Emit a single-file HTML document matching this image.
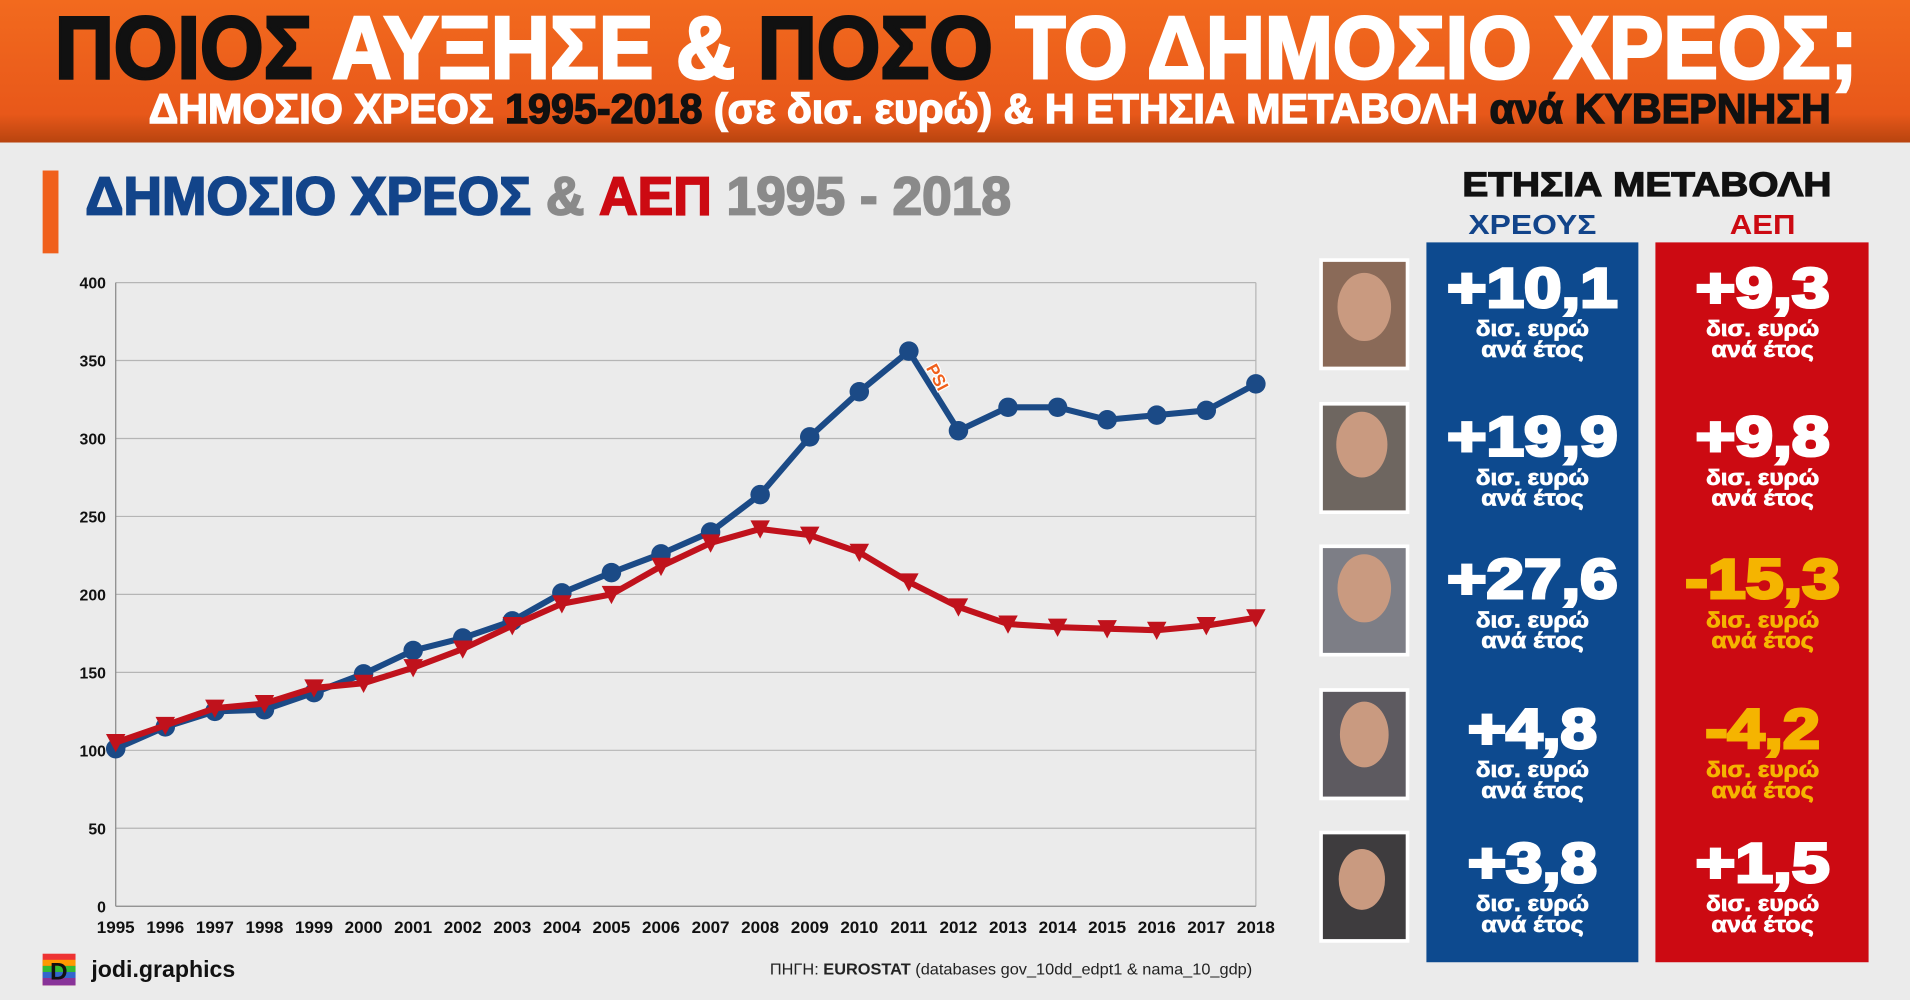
<!DOCTYPE html>
<html><head><meta charset="utf-8"><style>
html,body{margin:0;padding:0;background:#ececec;}
svg{display:block;}
</style></head><body>
<svg width="1910" height="1000" viewBox="0 0 1568 821" preserveAspectRatio="none" xmlns="http://www.w3.org/2000/svg" font-family="Liberation Sans, DejaVu Sans, sans-serif">
<defs>
<linearGradient id="hg" x1="0" y1="0" x2="0" y2="1">
<stop offset="0" stop-color="#f26a1e"/><stop offset="0.8" stop-color="#e8581a"/><stop offset="1" stop-color="#b8440f"/>
</linearGradient>
</defs>
<rect x="0" y="0" width="1568" height="821" fill="#ebebeb"/>
<rect x="0" y="0" width="1568" height="117" fill="url(#hg)"/>
<text x="45" y="64" font-size="72" font-weight="bold" textLength="1480" lengthAdjust="spacingAndGlyphs" fill="#fff" stroke="#fff" stroke-width="2.5"><tspan fill="#111" stroke="#111">ΠΟΙΟΣ</tspan> ΑΥΞΗΣΕ &amp; <tspan fill="#111" stroke="#111">ΠΟΣΟ</tspan> ΤΟ ΔΗΜΟΣΙΟ ΧΡΕΟΣ;</text>
<text x="122" y="101" font-size="34" font-weight="bold" textLength="1381" lengthAdjust="spacingAndGlyphs" fill="#fff" stroke="#fff" stroke-width="1.2">ΔΗΜΟΣΙΟ ΧΡΕΟΣ <tspan fill="#111" stroke="#111">1995-2018</tspan> (σε δισ. ευρώ) &amp; Η ΕΤΗΣΙΑ ΜΕΤΑΒΟΛΗ <tspan fill="#111" stroke="#111">ανά ΚΥΒΕΡΝΗΣΗ</tspan></text>

<rect x="35" y="140" width="13" height="68" fill="#f0601c"/>
<text x="70" y="176" font-size="44" font-weight="bold" textLength="760" lengthAdjust="spacingAndGlyphs" fill="#12448a" stroke="#12448a" stroke-width="1.5"><tspan fill="#8a8a8a" stroke="#8a8a8a" font-size="0">.</tspan>ΔΗΜΟΣΙΟ ΧΡΕΟΣ <tspan fill="#8a8a8a" stroke="#8a8a8a">&amp;</tspan> <tspan fill="#cc0a12" stroke="#cc0a12">ΑΕΠ</tspan> <tspan fill="#8a8a8a" stroke="#8a8a8a">1995 - 2018</tspan></text>

<g stroke="#b5b5b5" stroke-width="1">
<line x1="95" y1="232" x2="1031" y2="232"/><line x1="95" y1="296" x2="1031" y2="296"/>
<line x1="95" y1="360" x2="1031" y2="360"/><line x1="95" y1="424" x2="1031" y2="424"/>
<line x1="95" y1="488" x2="1031" y2="488"/><line x1="95" y1="552" x2="1031" y2="552"/>
<line x1="95" y1="616" x2="1031" y2="616"/><line x1="95" y1="680" x2="1031" y2="680"/>
<line x1="1031" y1="232" x2="1031" y2="744"/>
</g>
<line x1="95" y1="232" x2="95" y2="744" stroke="#888"/>
<line x1="95" y1="744" x2="1031" y2="744" stroke="#888"/>
<g font-size="13" font-weight="bold" fill="#111" text-anchor="end">
<text x="87" y="237">400</text><text x="87" y="301">350</text><text x="87" y="365">300</text><text x="87" y="429">250</text><text x="87" y="493">200</text><text x="87" y="557">150</text><text x="87" y="621">100</text><text x="87" y="685">50</text><text x="87" y="749">0</text>
</g>
<g font-size="14" font-weight="bold" fill="#111" text-anchor="middle" id="xl"></g>

<g id="series"></g>
<text x="0" y="0" font-size="14" font-weight="bold" fill="#f0601c" stroke="#fff" stroke-width="2" paint-order="stroke" transform="translate(760,302) rotate(62)">PSI</text>

<text x="1352" y="161" font-size="28" font-weight="bold" fill="#111" stroke="#111" stroke-width="1" text-anchor="middle" textLength="303" lengthAdjust="spacingAndGlyphs">ΕΤΗΣΙΑ ΜΕΤΑΒΟΛΗ</text>
<text x="1258" y="192" font-size="23" font-weight="bold" fill="#12448a" text-anchor="middle" textLength="105" lengthAdjust="spacingAndGlyphs">ΧΡΕΟΥΣ</text>
<text x="1447" y="192" font-size="23" font-weight="bold" fill="#cc0a12" text-anchor="middle" textLength="54" lengthAdjust="spacingAndGlyphs">ΑΕΠ</text>
<rect x="1171" y="199" width="174" height="591" fill="#0d4a8f"/>
<rect x="1359" y="199" width="175" height="591" fill="#cc0a12"/>
<g id="vals"></g>

<g fill="#fff">
<rect x="1083" y="212" width="74" height="92"/><rect x="1083" y="330" width="74" height="92"/><rect x="1083" y="447" width="74" height="92"/><rect x="1083" y="565" width="74" height="92"/><rect x="1083" y="682" width="74" height="92"/>
</g>
<rect x="1086" y="215" width="68" height="86" fill="#8a6a58"/>
<rect x="1086" y="333" width="68" height="86" fill="#6e6660"/>
<rect x="1086" y="450" width="68" height="86" fill="#7d7e86"/>
<rect x="1086" y="568" width="68" height="86" fill="#5d5a60"/>
<rect x="1086" y="685" width="68" height="86" fill="#3e3c3e"/>
<g fill="#c99a80"><ellipse cx="1120" cy="252" rx="22" ry="28"/><ellipse cx="1118" cy="365" rx="21" ry="27"/><ellipse cx="1120" cy="483" rx="22" ry="28"/><ellipse cx="1120" cy="603" rx="20" ry="27"/><ellipse cx="1118" cy="722" rx="19" ry="25"/></g>

<rect x="35" y="783" width="27" height="26" fill="#e33"/>
<rect x="35" y="788" width="27" height="5" fill="#f90"/><rect x="35" y="793" width="27" height="5" fill="#3b3"/><rect x="35" y="798" width="27" height="5" fill="#36c"/><rect x="35" y="803" width="27" height="6" fill="#839"/>
<text x="41" y="804" font-size="20" font-weight="bold" fill="#111">D</text>
<text x="75" y="802" font-size="19" font-weight="bold" fill="#111">jodi.graphics</text>
<text x="632" y="800" font-size="13" fill="#222" textLength="396" lengthAdjust="spacingAndGlyphs">ΠΗΓΗ: <tspan font-weight="bold">EUROSTAT</tspan> (databases gov_10dd_edpt1 &amp; nama_10_gdp)</text>
</svg>
<script>
var NS="http://www.w3.org/2000/svg";
function el(t,a,p){var e=document.createElementNS(NS,t);for(var k in a)e.setAttribute(k,a[k]);p.appendChild(e);return e;}
var xl=document.getElementById('xl'),s=document.getElementById('series'),v=document.getElementById('vals');
var X=function(i){return 95+i*936/23},Y=function(d){return 744-d*1.28};
var B=[101,115,125,126,137,149,164,172,183,201,214,226,240,264,301,330,356,305,320,320,312,315,318,335];
var R=[105,116,127,130,140,143,153,165,180,194,200,218,233,242,238,227,208,192,181,179,178,177,180,185];
for(var i=0;i<24;i++){var t=el('text',{x:X(i),y:766},xl);t.textContent=1995+i;}
var pb=B.map(function(d,i){return X(i)+','+Y(d)}).join(' ');
var pr=R.map(function(d,i){return X(i)+','+Y(d)}).join(' ');
el('polyline',{points:pb,fill:'none',stroke:'#1b4a86','stroke-width':5,'stroke-linejoin':'round'},s);
B.forEach(function(d,i){el('circle',{cx:X(i),cy:Y(d),r:8,fill:'#1b4a86'},s);});
el('polyline',{points:pr,fill:'none',stroke:'#c0121c','stroke-width':5,'stroke-linejoin':'round'},s);
R.forEach(function(d,i){var x=X(i),y=Y(d);el('polygon',{points:(x-8)+','+(y-7)+' '+(x+8)+','+(y-7)+' '+x+','+(y+8),fill:'#c0121c'},s);});
var rows=[[235,'+10,1','+9,3',0,140,110],[357,'+19,9','+9,8',0,140,110],[474,'+27,6','-15,3',1,140,127],[597,'+4,8','-4,2',1,106,94],[707,'+3,8','+1,5',0,106,110]];
rows.forEach(function(r){
 [[1258,r[1],'#fff',r[4]],[1447,r[2],r[3]?'#f5b400':'#fff',r[5]]].forEach(function(c){
  var t=el('text',{x:c[0],y:r[0]+17,'font-size':46,'font-weight':'bold',fill:c[2],'text-anchor':'middle',stroke:c[2],'stroke-width':2.5,textLength:c[3],lengthAdjust:'spacingAndGlyphs'},v);t.textContent=c[1];
  t=el('text',{x:c[0],y:r[0]+41,'font-size':18,'font-weight':'bold',fill:c[2],'text-anchor':'middle',stroke:c[2],'stroke-width':0.6,textLength:93,lengthAdjust:'spacingAndGlyphs'},v);t.textContent='δισ. ευρώ';
  t=el('text',{x:c[0],y:r[0]+58,'font-size':18,'font-weight':'bold',fill:c[2],'text-anchor':'middle',stroke:c[2],'stroke-width':0.6,textLength:84,lengthAdjust:'spacingAndGlyphs'},v);t.textContent='ανά έτος';
 });
});
</script>
</body></html>
